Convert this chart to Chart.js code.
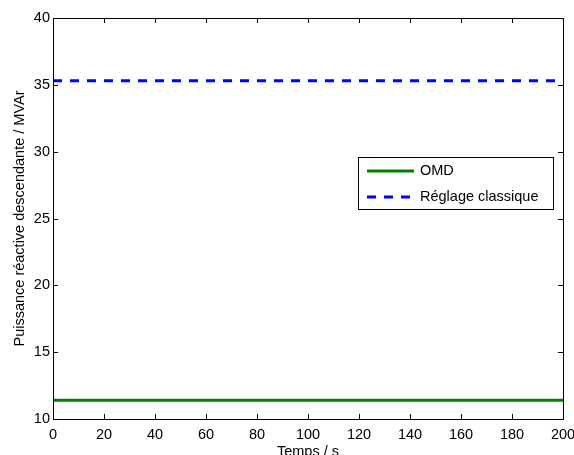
<!DOCTYPE html>
<html>
<head>
<meta charset="utf-8">
<script src="https://cdn.jsdelivr.net/npm/chart.js@4"></script>
<style>
  html, body { margin: 0; padding: 0; background: #fff; overflow: hidden; }
</style>
</head>
<body>
<canvas id="myChart" width="574" height="455"></canvas>
<script>
// values
const timeS = [0, 200];
const omdValues = [11.4, 11.4];
const classicValues = [35.3, 35.3];
const seriesLabels = ['OMD', 'Réglage classique'];
const xTicks = [0, 20, 40, 60, 80, 100, 120, 140, 160, 180, 200];
const yTicks = [10, 15, 20, 25, 30, 35, 40];

const FONT = { family: '"Liberation Sans", Arial, sans-serif', size: 14.5 };

// MATLAB-like box with inward ticks + legend inside the axes
const boxPlugin = {
  id: 'box',
  afterDraw(chart) {
    const ctx = chart.ctx;
    const a = chart.chartArea;
    const xs = chart.scales.x, ys = chart.scales.y;
    ctx.save();
    ctx.strokeStyle = '#000';
    ctx.lineWidth = 1;
    ctx.strokeRect(a.left + 0.5, a.top + 0.5, a.right - a.left, a.bottom - a.top);
    ctx.beginPath();
    const tl = 5;
    xTicks.forEach(v => {
      const px = Math.round(xs.getPixelForValue(v)) + 0.5;
      ctx.moveTo(px, a.bottom); ctx.lineTo(px, a.bottom - tl);
      ctx.moveTo(px, a.top); ctx.lineTo(px, a.top + tl);
    });
    yTicks.forEach(v => {
      const py = Math.round(ys.getPixelForValue(v)) + 0.5;
      ctx.moveTo(a.left, py); ctx.lineTo(a.left + tl, py);
      ctx.moveTo(a.right, py); ctx.lineTo(a.right - tl, py);
    });
    ctx.stroke();

    // legend
    const lx = 358, ly = 157, lw = 195, lh = 52;
    ctx.fillStyle = '#fff';
    ctx.fillRect(lx, ly, lw, lh);
    ctx.strokeRect(lx + 0.5, ly + 0.5, lw, lh);
    ctx.font = '14.5px "Liberation Sans", Arial, sans-serif';
    ctx.textBaseline = 'middle';
    chart.data.datasets.forEach((ds, i) => {
      const y = ly + 14 + i * 26;
      ctx.strokeStyle = ds.borderColor;
      ctx.lineWidth = ds.borderWidth;
      ctx.setLineDash(ds.borderDash || []);
      ctx.beginPath();
      ctx.moveTo(367, y); ctx.lineTo(414, y);
      ctx.stroke();
      ctx.setLineDash([]);
      ctx.fillStyle = '#000';
      ctx.fillText(ds.label, 420, y);
    });
    ctx.restore();
  }
};

new Chart(document.getElementById('myChart').getContext('2d'), {
  type: 'line',
  data: {
    datasets: [{
      label: seriesLabels[0],
      data: timeS.map((t, i) => ({ x: t, y: omdValues[i] })),
      borderColor: '#008000',
      borderWidth: 3,
      pointRadius: 0
    }, {
      label: seriesLabels[1],
      data: timeS.map((t, i) => ({ x: t, y: classicValues[i] })),
      borderColor: '#0000ff',
      borderWidth: 3,
      borderDash: [9, 8],
      pointRadius: 0
    }]
  },
  options: {
    responsive: false,
    animation: false,
    layout: { padding: { left: 0, right: 11, top: 18, bottom: 0 } },
    plugins: { legend: { display: false }, tooltip: { enabled: false } },
    scales: {
      x: {
        type: 'linear',
        min: 0, max: 200,
        afterBuildTicks: s => { s.ticks = xTicks.map(v => ({ value: v })); },
        afterFit: s => { s.height = 36; s.paddingLeft = 0; s.paddingRight = 0; },
        grid: { display: false, drawTicks: false, tickLength: 0 },
        border: { display: false },
        ticks: { color: '#000', font: FONT, padding: 7, maxRotation: 0 },
        title: { display: true, text: 'Temps / s', color: '#000', font: FONT, padding: { top: 0, bottom: -6 } }
      },
      y: {
        min: 10, max: 40,
        afterBuildTicks: s => { s.ticks = yTicks.map(v => ({ value: v })); },
        afterFit: s => { s.width = 53; },
        grid: { display: false, drawTicks: false, tickLength: 0 },
        border: { display: false },
        ticks: { color: '#000', font: FONT, padding: 3 },
        title: { display: true, text: 'Puissance réactive descendante / MVAr', color: '#000', font: FONT, padding: { top: 11, bottom: 0 } }
      }
    }
  },
  plugins: [boxPlugin]
});
</script>
</body>
</html>
